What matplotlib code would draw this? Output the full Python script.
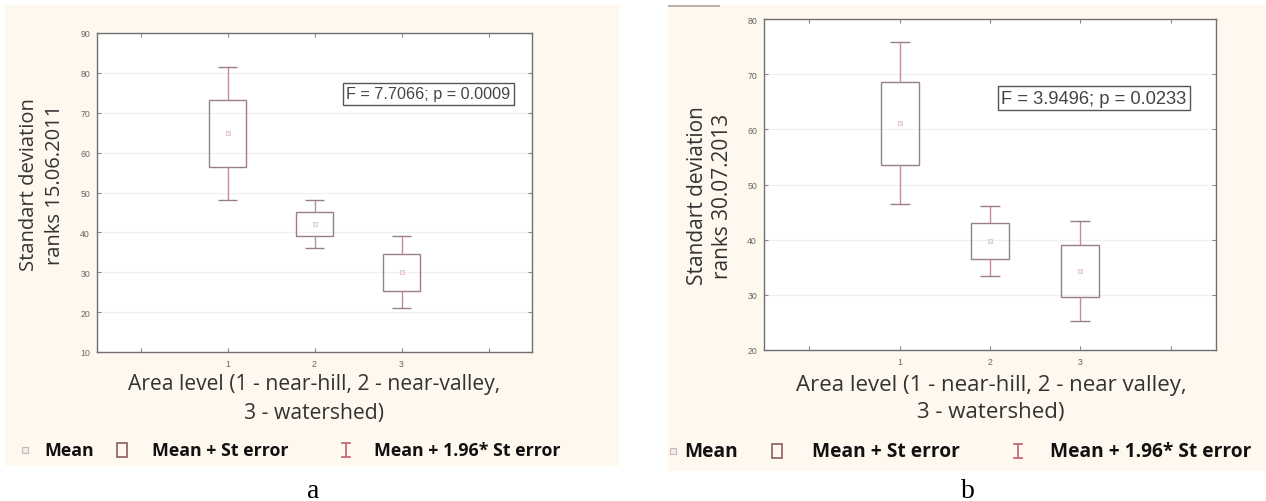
import matplotlib
matplotlib.use("Agg")
import matplotlib.pyplot as plt
from matplotlib.patches import Rectangle
from matplotlib.lines import Line2D

W, H = 1266, 502

levels = [1, 2, 3]
mean_a = [64.8, 42.1, 30.0]
se_a = [8.5, 3.1, 4.6]
mean_b = [61.1, 39.8, 34.3]
se_b = [7.5, 3.25, 4.65]
yticks_a = [10, 20, 30, 40, 50, 60, 70, 80, 90]
yticks_b = [20, 30, 40, 50, 60, 70, 80]
xtick_labels = ["", "1", "2", "3", ""]
stat_a = "F = 7.7066; p = 0.0009"
stat_b = "F = 3.9496; p = 0.0233"
ylabel_a = "Standart deviation\nranks 15.06.2011"
ylabel_b = "Standart deviation\nranks 30.07.2013"
xlabel_a = "Area level (1 - near-hill, 2 - near-valley,\n3 - watershed)"
xlabel_b = "Area level (1 - near-hill, 2 - near valley,\n3 - watershed)"
legend_labels = ["Mean", "Mean + St error", "Mean + 1.96* St error"]

CREAM = "#fff8ee"
BOX = "#9a7e86"
WHISK = "#b98f98"
SANS = ["Open Sans", "DejaVu Sans"]
ARIAL = ["Liberation Sans", "DejaVu Sans"]


def px(x0, y0, x1, y1):
    """pixel box (top-left origin) -> figure rect"""
    return [x0 / W, 1 - y1 / H, (x1 - x0) / W, (y1 - y0) / H]


def draw_panel(ax, means, ses, yticks, stat, stat_pos, stat_fs):
    lo = [m - s for m, s in zip(means, ses)]
    hi = [m + s for m, s in zip(means, ses)]
    lo96 = [m - 1.96 * s for m, s in zip(means, ses)]
    hi96 = [m + 1.96 * s for m, s in zip(means, ses)]

    ax.set_xlim(-0.5, 4.5)
    ax.set_ylim(yticks[0], yticks[-1])
    ax.set_xticks(range(5))
    ax.set_xticklabels(xtick_labels)
    ax.set_yticks(yticks)
    ax.grid(axis="y", color="#efefef", lw=0.8)
    ax.set_axisbelow(True)

    ax.bar(levels, [2 * s for s in ses], bottom=lo, width=0.42, fill=False,
           edgecolor=BOX, lw=1)
    ax.vlines(levels, hi, hi96, color=WHISK, lw=1)
    ax.vlines(levels, lo96, lo, color=WHISK, lw=1)
    caps_l = [x - 0.11 for x in levels]
    caps_r = [x + 0.11 for x in levels]
    ax.hlines(hi96, caps_l, caps_r, color=BOX, lw=1)
    ax.hlines(lo96, caps_l, caps_r, color=BOX, lw=1)
    ax.plot(levels, means, "s", ms=3, mfc="#f4ecec", mec="#d9c4c7", mew=0.6)

    ax.tick_params(direction="in", length=3, top=True, right=True,
                   labelsize=6.3, labelcolor="#666666", color="#888888", pad=5)
    for lab in ax.get_xticklabels() + ax.get_yticklabels():
        lab.set_family(ARIAL)
    for sp in ax.spines.values():
        sp.set_color("#707070")
        sp.set_linewidth(1)

    ax.text(stat_pos[0], stat_pos[1], stat, transform=ax.transAxes,
            ha="center", va="center", fontsize=stat_fs, family=ARIAL,
            color="#444444",
            bbox=dict(boxstyle="square,pad=0.2", fc="white", ec="#555555", lw=1))


def legend_row(fig, xs, y, fs):
    # xs: mean marker, "Mean", box, "Mean + St error", I-bar, last label
    yf = 1 - y / H
    fig.add_artist(Line2D([xs[0] / W], [yf], marker="s", ms=4, mfc="#eeeeee",
                          mec="#c8b5b8", mew=0.8, transform=fig.transFigure))
    fig.add_artist(Rectangle((xs[2] / W, 1 - (y + 7) / H), 10 / W, 14 / H,
                             fill=False, ec="#8b5e62", lw=1.2,
                             transform=fig.transFigure))
    xi = xs[4] / W
    hw = 4 / W
    top, bot = 1 - (y - 7) / H, 1 - (y + 7) / H
    for xx, yy in [([xi, xi], [bot, top]), ([xi - hw, xi + hw], [top, top]),
                   ([xi - hw, xi + hw], [bot, bot])]:
        fig.add_artist(Line2D(xx, yy, color="#c06d7c", lw=1.3,
                              transform=fig.transFigure))
    for xpos, lab in zip([xs[1], xs[3], xs[5]], legend_labels):
        fig.text(xpos / W, yf, lab, ha="left", va="center", fontsize=fs,
                 fontweight="bold", family=SANS, color="#111111")


fig = plt.figure(figsize=(W / 100, H / 100), dpi=100)
fig.patch.set_facecolor("white")

# cream panels
fig.add_artist(Rectangle((5 / W, 1 - 467 / H), 614 / W, 461 / H, fc=CREAM,
                         ec="none", transform=fig.transFigure, zorder=0))
fig.add_artist(Rectangle((668 / W, 1 - 472 / H), 598 / W, 466 / H, fc=CREAM,
                         ec="none", transform=fig.transFigure, zorder=0))
fig.add_artist(Rectangle((668 / W, 1 - 8 / H), 52 / W, 2 / H, fc="#b8b2ac",
                         ec="none", transform=fig.transFigure, zorder=0))

ax_a = fig.add_axes(px(97, 34, 532, 353))
ax_b = fig.add_axes(px(764, 20, 1216, 351))
draw_panel(ax_a, mean_a, se_a, yticks_a, stat_a, (0.762, 0.809), 11.6)
draw_panel(ax_b, mean_b, se_b, yticks_b, stat_b, (0.730, 0.761), 13.2)

# axis titles
fig.text(42 / W, 1 - 185 / H, ylabel_a, rotation=90, ha="center", va="center",
         fontsize=14.5, family=SANS, color="#333333", linespacing=1.4)
fig.text(710 / W, 1 - 196 / H, ylabel_b, rotation=90, ha="center", va="center",
         fontsize=15, family=SANS, color="#333333", linespacing=1.2)
fig.text(314 / W, 1 - 399 / H, xlabel_a, ha="center", va="center",
         fontsize=15.2, family=SANS, color="#333333", linespacing=1.45)
fig.text(991 / W, 1 - 399 / H, xlabel_b, ha="center", va="center",
         fontsize=16, family=SANS, color="#333333", linespacing=1.38)

legend_row(fig, [25, 44, 117, 152, 346, 374], 451, 12.8)
legend_row(fig, [673, 684, 772, 812, 1018, 1050], 452, 13.8)

fig.text(313 / W, 1 - 492 / H, "a", ha="center", va="center", fontsize=20,
         family=["Liberation Serif", "DejaVu Serif"], color="black")
fig.text(968 / W, 1 - 492 / H, "b", ha="center", va="center", fontsize=20,
         family=["Liberation Serif", "DejaVu Serif"], color="black")

fig.savefig("out.png", dpi=100)
